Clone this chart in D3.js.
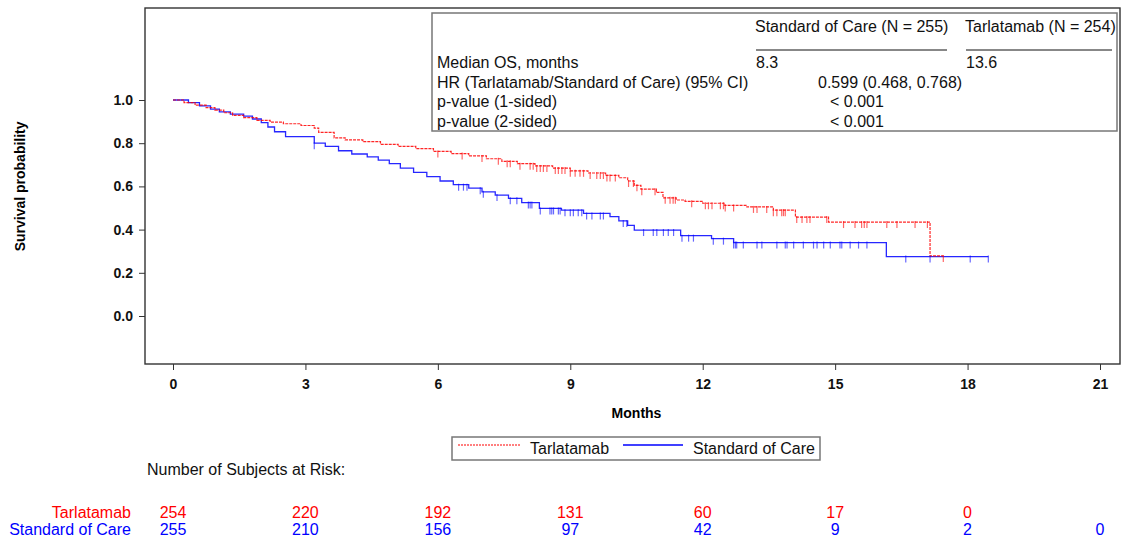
<!DOCTYPE html>
<html>
<head>
<meta charset="utf-8">
<script src="https://cdn.jsdelivr.net/npm/d3@7"></script>
<style>
  body { margin: 0; background: #fff; }
  svg { display: block; font-family: "Liberation Sans", Arial, sans-serif; }
</style>
</head>
<body>
<svg id="chart" width="1128" height="540"></svg>
<script>
// Kaplan-Meier step estimates (months, survival probability)
const tarlaTimes = [0, 0.25, 0.5, 0.75, 0.95, 1.15, 1.35, 1.6, 1.9, 2.2, 2.5, 2.9, 3.2, 3.3, 3.65, 3.9, 4.3, 4.7, 5.1, 5.5, 5.9, 6.3, 6.7, 7.1, 7.45, 7.8, 8.2, 8.6, 9.0, 9.4, 9.8, 10.1, 10.3, 10.45, 10.6, 10.95, 11.1, 11.4, 11.6, 12.0, 12.5, 13.0, 13.6, 14.1, 14.85, 17.15];
const tarlaSurv  = [1.0, 0.988, 0.976, 0.965, 0.953, 0.941, 0.929, 0.918, 0.906, 0.898, 0.890, 0.882, 0.870, 0.850, 0.825, 0.815, 0.807, 0.795, 0.785, 0.775, 0.762, 0.752, 0.741, 0.728, 0.716, 0.705, 0.695, 0.685, 0.672, 0.662, 0.651, 0.640, 0.625, 0.605, 0.587, 0.572, 0.547, 0.537, 0.531, 0.522, 0.512, 0.505, 0.490, 0.458, 0.435, 0.278];
const tarlaLast = 17.45;
const tarlaCensor = [6.0, 6.55, 7.0, 7.37, 7.57, 7.64, 7.86, 8.09, 8.16, 8.24, 8.32, 8.39, 8.47, 8.66, 8.73, 8.81, 8.88, 9.0, 9.11, 9.22, 9.3, 9.45, 9.6, 9.68, 9.75, 9.83, 9.9, 10.02, 10.32, 10.43, 10.51, 10.62, 10.92, 11.15, 11.26, 11.33, 11.38, 11.75, 12.06, 12.13, 12.21, 12.4, 12.47, 12.51, 12.7, 13.15, 13.23, 13.45, 13.6, 13.68, 13.79, 13.83, 13.87, 14.13, 14.25, 14.36, 14.43, 14.81, 15.19, 15.45, 15.6, 15.66, 15.72, 16.17, 16.4, 16.81, 17.09, 17.45];

const socTimes = [0, 0.35, 0.6, 0.85, 1.05, 1.3, 1.6, 1.8, 2.0, 2.15, 2.3, 2.55, 3.2, 3.45, 3.75, 4.05, 4.4, 4.65, 4.9, 5.15, 5.45, 5.75, 6.05, 6.35, 6.7, 7.0, 7.3, 7.6, 7.9, 8.3, 8.8, 9.3, 9.9, 10.1, 10.3, 10.45, 11.5, 12.2, 12.7, 16.16];
const socSurv  = [1.0, 0.988, 0.973, 0.958, 0.945, 0.935, 0.925, 0.912, 0.895, 0.875, 0.853, 0.830, 0.800, 0.785, 0.765, 0.750, 0.737, 0.722, 0.705, 0.685, 0.665, 0.645, 0.625, 0.608, 0.592, 0.575, 0.560, 0.545, 0.525, 0.498, 0.490, 0.475, 0.460, 0.440, 0.420, 0.398, 0.372, 0.358, 0.340, 0.275];
const socLast = 18.47;
const socCensor = [3.2, 6.47, 6.58, 6.66, 6.96, 7.03, 7.34, 7.64, 7.79, 8.05, 8.09, 8.13, 8.32, 8.54, 8.58, 8.62, 8.73, 8.77, 8.88, 9.0, 9.07, 9.18, 9.26, 9.37, 9.49, 9.68, 9.75, 10.2, 10.28, 10.66, 10.88, 10.96, 11.11, 11.22, 11.34, 11.53, 11.68, 11.79, 12.24, 12.47, 12.7, 12.74, 12.77, 12.92, 13.23, 13.34, 13.68, 13.87, 13.91, 14.06, 14.28, 14.51, 14.59, 14.74, 14.89, 15.11, 15.15, 15.34, 15.53, 15.72, 16.6, 17.15, 18.06, 18.47];

const xTicks = [0, 3, 6, 9, 12, 15, 18, 21];
const yTicks = [0.0, 0.2, 0.4, 0.6, 0.8, 1.0];

const riskTimes = [0, 3, 6, 9, 12, 15, 18, 21];
const riskTarla = [254, 220, 192, 131, 60, 17, 0];
const riskSoc   = [255, 210, 156, 97, 42, 9, 2, 0];

const statHeaders = ["Standard of Care (N = 255)", "Tarlatamab (N = 254)"];
const statLabels = ["Median OS, months", "HR (Tarlatamab/Standard of Care) (95% CI)", "p-value (1-sided)", "p-value (2-sided)"];
const medianOS = ["8.3", "13.6"];
const hrText = "0.599 (0.468, 0.768)";
const pOneSided = "< 0.001";
const pTwoSided = "< 0.001";

const RED = "#ff0000", BLUE = "#0000ff";

const svg = d3.select("#chart");
const frame = { left: 145, right: 1120, top: 8, bottom: 364 };

const x = d3.scaleLinear().domain([0, 21]).range([173, 1100]);
const y = d3.scaleLinear().domain([0, 1]).range([316, 100]);

svg.append("rect").attr("width", 1128).attr("height", 540).attr("fill", "#fff");

// plot frame
svg.append("rect")
  .attr("x", frame.left).attr("y", frame.top)
  .attr("width", frame.right - frame.left).attr("height", frame.bottom - frame.top)
  .attr("fill", "none").attr("stroke", "#333").attr("stroke-width", 1.4);

// y axis
const yAxis = d3.axisLeft(y).tickValues(yTicks).tickFormat(d3.format(".1f")).tickSize(6).tickPadding(6);
const gy = svg.append("g").attr("transform", `translate(${frame.left},0)`).call(yAxis);
gy.select(".domain").remove();
gy.selectAll("line").attr("stroke", "#333");
gy.selectAll("text").attr("font-size", 14).attr("font-weight", "bold").attr("fill", "#111")
  .attr("font-family", "Liberation Sans, Arial, sans-serif");

// x axis
const xAxis = d3.axisBottom(x).tickValues(xTicks).tickFormat(d3.format("d")).tickSize(6).tickPadding(9);
const gx = svg.append("g").attr("transform", `translate(0,${frame.bottom})`).call(xAxis);
gx.select(".domain").remove();
gx.selectAll("line").attr("stroke", "#333");
gx.selectAll("text").attr("font-size", 14).attr("font-weight", "bold").attr("fill", "#111")
  .attr("font-family", "Liberation Sans, Arial, sans-serif");

svg.append("text").attr("x", x(10.5)).attr("y", 418).attr("text-anchor", "middle")
  .attr("font-size", 14).attr("font-weight", "bold").text("Months");

svg.append("text").attr("transform", `translate(25,${y(0.6)}) rotate(-90)`)
  .attr("text-anchor", "middle").attr("font-size", 14).attr("font-weight", "bold")
  .text("Survival probability");

// survival curves
function stepPoints(times, surv, last) {
  const pts = times.map((t, i) => [t, surv[i]]);
  pts.push([last, surv[surv.length - 1]]);
  return pts;
}
function survAt(times, surv, t) {
  let s = surv[0];
  for (let i = 0; i < times.length; i++) { if (times[i] <= t) s = surv[i]; }
  return s;
}
const line = d3.line().x(d => x(d[0])).y(d => y(d[1])).curve(d3.curveStepAfter);

svg.append("path").attr("d", line(stepPoints(socTimes, socSurv, socLast)))
  .attr("fill", "none").attr("stroke", BLUE).attr("stroke-width", 1.3).attr("stroke-opacity", 0.85);
svg.append("path").attr("d", line(stepPoints(tarlaTimes, tarlaSurv, tarlaLast)))
  .attr("fill", "none").attr("stroke", RED).attr("stroke-width", 1.2)
  .attr("stroke-dasharray", "3,1").attr("stroke-opacity", 0.85);

// censoring marks
function censorMarks(times, surv, censor, color) {
  svg.append("g").selectAll("line").data(censor).join("line")
    .attr("x1", d => x(d)).attr("x2", d => x(d))
    .attr("y1", d => y(survAt(times, surv, d)) - 1)
    .attr("y2", d => y(survAt(times, surv, d)) + 6)
    .attr("stroke", color).attr("stroke-width", 1.2).attr("stroke-opacity", 0.6);
}
censorMarks(socTimes, socSurv, socCensor, BLUE);
censorMarks(tarlaTimes, tarlaSurv, tarlaCensor, RED);

// statistics inset
const stats = svg.append("g").attr("font-size", 16).attr("fill", "#111");
stats.append("rect").attr("x", 432).attr("y", 13).attr("width", 685).attr("height", 118)
  .attr("fill", "#fff").attr("stroke", "#777").attr("stroke-width", 1.5);
const colX = [755, 965];
const colEnd = [947, 1112];
statHeaders.forEach((h, i) => {
  stats.append("text").attr("x", colX[i]).attr("y", 32).text(h);
  stats.append("line").attr("x1", colX[i] + 1).attr("x2", colEnd[i]).attr("y1", 50).attr("y2", 50)
    .attr("stroke", "#111").attr("stroke-width", 1);
});
const rowY = [68, 88, 107, 127];
statLabels.forEach((l, i) => stats.append("text").attr("x", 437).attr("y", rowY[i]).text(l));
medianOS.forEach((m, i) => stats.append("text").attr("x", colX[i] + 1).attr("y", rowY[0]).text(m));
stats.append("text").attr("x", 818).attr("y", rowY[1]).text(hrText);
stats.append("text").attr("x", 830).attr("y", rowY[2]).text(pOneSided);
stats.append("text").attr("x", 830).attr("y", rowY[3]).text(pTwoSided);

// legend
const lg = svg.append("g").attr("font-size", 16).attr("fill", "#111");
lg.append("rect").attr("x", 452).attr("y", 437).attr("width", 368).attr("height", 23)
  .attr("fill", "#fff").attr("stroke", "#777").attr("stroke-width", 1.5);
lg.append("line").attr("x1", 458).attr("x2", 520).attr("y1", 445).attr("y2", 445)
  .attr("stroke", RED).attr("stroke-width", 1.2).attr("stroke-dasharray", "2,1");
lg.append("text").attr("x", 530).attr("y", 454).text("Tarlatamab");
lg.append("line").attr("x1", 623).attr("x2", 683).attr("y1", 445).attr("y2", 445)
  .attr("stroke", BLUE).attr("stroke-width", 1.3);
lg.append("text").attr("x", 693).attr("y", 454).text("Standard of Care");

// number at risk
const risk = svg.append("g").attr("font-size", 16);
risk.append("text").attr("x", 147).attr("y", 475).attr("fill", "#111").text("Number of Subjects at Risk:");
risk.append("text").attr("x", 131).attr("y", 518).attr("text-anchor", "end").attr("fill", RED).text("Tarlatamab");
risk.append("text").attr("x", 131).attr("y", 535).attr("text-anchor", "end").attr("fill", BLUE).text("Standard of Care");
riskTarla.forEach((n, i) => risk.append("text").attr("x", x(riskTimes[i])).attr("y", 518)
  .attr("text-anchor", "middle").attr("fill", RED).text(n));
riskSoc.forEach((n, i) => risk.append("text").attr("x", x(riskTimes[i])).attr("y", 535)
  .attr("text-anchor", "middle").attr("fill", BLUE).text(n));
</script>
</body>
</html>
